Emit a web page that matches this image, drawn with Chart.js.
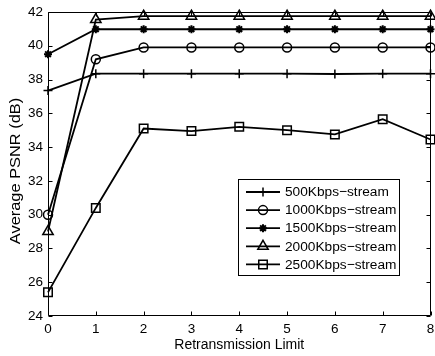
<!DOCTYPE html>
<html>
<head>
<meta charset="utf-8">
<script src="https://cdn.jsdelivr.net/npm/chart.js@4/dist/chart.umd.min.js"></script>
<style>
  html, body { margin: 0; padding: 0; background: #fff; overflow: hidden; width: 435px; height: 356px; }
  canvas { display: block; }
</style>
</head>
<body>
<canvas id="psnr" width="438" height="356"></canvas>
<script>
// Retransmission limit (x) and average PSNR in dB for each stream bitrate
const retxLimits = [0, 1, 2, 3, 4, 5, 6, 7, 8];
const psnr500  = [37.35, 38.35, 38.35, 38.35, 38.35, 38.35, 38.33, 38.35, 38.35];
const psnr1000 = [30.0, 39.2, 39.9, 39.9, 39.9, 39.9, 39.9, 39.9, 39.9];
const psnr1500 = [39.5, 40.98, 40.98, 40.98, 40.98, 40.98, 40.98, 40.98, 40.98];
const psnr2000 = [29.0, 41.55, 41.75, 41.75, 41.75, 41.75, 41.75, 41.75, 41.75];
const psnr2500 = [25.4, 30.4, 35.1, 34.95, 35.2, 35.0, 34.75, 35.65, 34.45];
const seriesNames = ['500Kbps\u2212stream', '1000Kbps\u2212stream', '1500Kbps\u2212stream', '2000Kbps\u2212stream', '2500Kbps\u2212stream'];
const xTicks = [0, 1, 2, 3, 4, 5, 6, 7, 8];
const yTicks = [24, 26, 28, 30, 32, 34, 36, 38, 40, 42];
const xTitle = 'Retransmission Limit';
const yTitle = 'Average PSNR (dB)';

const FONT = '"Liberation Sans", Arial, Helvetica, sans-serif';

const markerStyles = [
  { pointStyle: 'cross',    radius: 4.5 },
  { pointStyle: 'circle',   radius: 4.5 },
  { pointStyle: 'star',     radius: 4 },
  { pointStyle: 'triangle', radius: 6 },
  { pointStyle: 'rect',     radius: 6 }
];
const seriesValues = [psnr500, psnr1000, psnr1500, psnr2000, psnr2500];

const datasets = seriesValues.map((vals, i) => ({
  label: seriesNames[i],
  data: retxLimits.map((x, j) => ({ x: x, y: vals[j] })),
  borderColor: '#000',
  backgroundColor: 'rgba(0,0,0,0)',
  borderWidth: 1.8,
  pointStyle: markerStyles[i].pointStyle,
  pointRadius: markerStyles[i].radius,
  pointBorderWidth: i === 2 ? 2 : 1.5,
  pointBorderColor: '#000',
  pointBackgroundColor: 'rgba(0,0,0,0)',
  tension: 0,
  clip: false
}));

// Axes box with inward ticks on all four sides, plus axis titles
const framePlugin = {
  id: 'frame',
  afterDatasetsDraw(chart) {
    const { ctx, chartArea: a, scales: { x, y } } = chart;
    ctx.save();
    ctx.strokeStyle = '#000';
    ctx.lineWidth = 1;
    const L = Math.round(a.left) + 0.5, R = Math.round(a.right) - 0.5;
    const T = Math.round(a.top) + 0.5, B = Math.round(a.bottom) - 0.5;
    ctx.beginPath();
    ctx.rect(L, T, R - L, B - T);
    const len = 4;
    xTicks.forEach(v => {
      const px = Math.round(x.getPixelForValue(v)) + 0.5;
      ctx.moveTo(px, B); ctx.lineTo(px, B - len);
      ctx.moveTo(px, T); ctx.lineTo(px, T + len);
    });
    yTicks.forEach(v => {
      const py = Math.round(y.getPixelForValue(v)) + 0.5;
      ctx.moveTo(L, py); ctx.lineTo(L + len, py);
      ctx.moveTo(R, py); ctx.lineTo(R - len, py);
    });
    ctx.stroke();

    ctx.fillStyle = '#000';
    // x-axis title, centred under the plot area
    ctx.font = '14px ' + FONT;
    ctx.textAlign = 'center';
    ctx.textBaseline = 'alphabetic';
    ctx.fillText(xTitle, (a.left + a.right) / 2, 348.5);
    // y-axis title, rotated and drawn a little elongated
    ctx.save();
    ctx.translate(20, 171);
    ctx.rotate(-Math.PI / 2);
    ctx.scale(1.17, 1);
    ctx.fillText(yTitle, 0, 0);
    ctx.restore();
    ctx.restore();
  }
};

// Boxed legend inside the plot, line sample with marker for each series
const legendPlugin = {
  id: 'boxLegend',
  afterDraw(chart) {
    const { ctx } = chart;
    const bx = 238, by = 179, bw = 162, bh = 97;
    ctx.save();
    ctx.fillStyle = '#fff';
    ctx.fillRect(bx, by, bw, bh);
    ctx.strokeStyle = '#000';
    ctx.lineWidth = 1;
    ctx.strokeRect(bx + 0.5, by + 0.5, bw - 1, bh - 1);
    chart.data.datasets.forEach((ds, i) => {
      const ry = 192 + i * 18.1;
      ctx.strokeStyle = '#000';
      ctx.lineWidth = ds.borderWidth;
      ctx.beginPath();
      ctx.moveTo(246, ry);
      ctx.lineTo(280, ry);
      ctx.stroke();
      ctx.lineWidth = ds.pointBorderWidth;
      ctx.fillStyle = 'rgba(0,0,0,0)';
      Chart.helpers.drawPoint(ctx, {
        pointStyle: ds.pointStyle,
        radius: ds.pointRadius,
        rotation: 0,
        borderWidth: ds.pointBorderWidth
      }, 263, ry);
      ctx.fillStyle = '#000';
      ctx.font = '13.7px ' + FONT;
      ctx.textAlign = 'left';
      ctx.textBaseline = 'middle';
      ctx.fillText(ds.label, 285, ry + 0.5);
    });
    ctx.restore();
  }
};

new Chart(document.getElementById('psnr'), {
  type: 'line',
  data: { datasets: datasets },
  options: {
    responsive: false,
    devicePixelRatio: 1,
    animation: false,
    layout: { padding: { left: 0, top: 12, right: 2, bottom: 0 } },
    plugins: { legend: { display: false }, tooltip: { enabled: false } },
    scales: {
      x: {
        type: 'linear',
        min: 0, max: 8,
        afterBuildTicks(s) { s.ticks = xTicks.map(v => ({ value: v })); },
        afterFit(s) { s.height = 40; s.paddingLeft = 0; s.paddingRight = 0; },
        grid: { display: false, drawTicks: false },
        border: { display: false },
        ticks: { color: '#000', padding: 5, maxRotation: 0, font: { family: FONT, size: 13.5 } }
      },
      y: {
        type: 'linear',
        min: 24, max: 42,
        afterBuildTicks(s) { s.ticks = yTicks.map(v => ({ value: v })); },
        afterFit(s) { s.width = 48; s.paddingTop = 0; s.paddingBottom = 0; },
        grid: { display: false, drawTicks: false },
        border: { display: false },
        ticks: { color: '#000', padding: 5, font: { family: FONT, size: 13.5 } }
      }
    }
  },
  plugins: [framePlugin, legendPlugin]
});
</script>
</body>
</html>
